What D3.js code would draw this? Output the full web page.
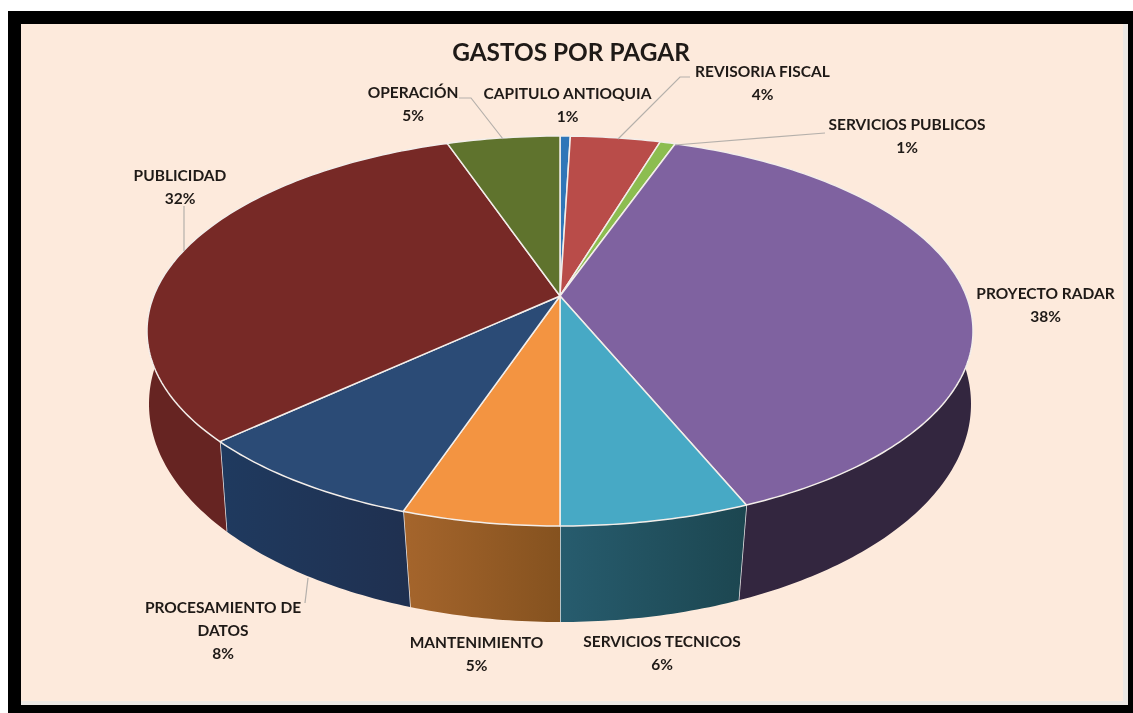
<!DOCTYPE html>
<html>
<head>
<meta charset="utf-8">
<script src="https://cdn.jsdelivr.net/npm/d3@7"></script>
<style>
    html, body { margin: 0; padding: 0; background: #fff; }
    svg { display: block; filter: blur(0.4px); }
    text { font-family: Lato, "Open Sans", sans-serif; font-weight: 700; fill: #1f1a17; text-anchor: middle; }
</style>
</head>
<body>
<div id="chart"></div>
<script>
const chartTitle = 'GASTOS POR PAGAR';
const categories = ['CAPITULO ANTIOQUIA', 'REVISORIA FISCAL', 'SERVICIOS PUBLICOS', 'PROYECTO RADAR',
    'SERVICIOS TECNICOS', 'MANTENIMIENTO', 'PROCESAMIENTO DE DATOS', 'PUBLICIDAD', 'OPERACIÓN'];
// share of the circle each slice takes in the drawing
const sliceShares = [0.4, 3.5, 0.6, 38.05, 7.45, 6.2, 9.2, 30.2, 4.4];
// what the chart prints (does not quite agree with the slices)
const percentLabels = ['1%', '4%', '1%', '38%', '6%', '5%', '8%', '32%', '5%'];
const topColors = ['#2f76b8', '#b94c49', '#8cbd50', '#7f62a0', '#47a9c5', '#f39441', '#2b4b76', '#772926', '#5f732d'];
const wallLeft = ['#1f4f7d', '#7d3230', '#5f8036', '#33263f', '#275c6e', '#a5652c', '#1f3a5f', '#662422', '#40501f'];
const wallRight = ['#1f4f7d', '#7d3230', '#5f8036', '#33263f', '#1c4650', '#85521f', '#1f3050', '#662422', '#40501f'];

const labelLines = [
    ['CAPITULO ANTIOQUIA'], ['REVISORIA FISCAL'], ['SERVICIOS PUBLICOS'], ['PROYECTO RADAR'],
    ['SERVICIOS TECNICOS'], ['MANTENIMIENTO'], ['PROCESAMIENTO DE', 'DATOS'], ['PUBLICIDAD'], ['OPERACIÓN']
];
const labelAnchors = [[567.5, 99], [762.5, 77], [907, 130], [1045.5, 299], [662, 647], [476.5, 648], [223, 613], [180, 181], [413, 98]];
const leaders = [
    [[459, 98], [471, 98], [503, 139]],
    [[690, 77], [680, 77], [618, 139]],
    [[825, 133], [675, 145]],
    [[184, 206], [184, 251]],
    [[305, 603], [308, 578]]
];

const width = 1133, height = 713;
const apex = { x: 560, y: 296 };
const topRim = { cy: 331, rx: 413, ry: 195 };
const bottomRim = { cy: 404, rx: 411, ry: 218 };
const wallFrom = 70 * Math.PI / 180, wallTo = 290 * Math.PI / 180;

const rimPoint = (rim, t) => [apex.x + rim.rx * Math.sin(t), rim.cy - rim.ry * Math.cos(t)];
// the lower rim is seen a little further in, so seams lean toward the middle
const lowerPoint = t => rimPoint(bottomRim, t - 0.023 * Math.sin(2 * t));
const line = d3.line();

function arcPoints(pointAt, a, b) {
    const n = Math.max(2, Math.ceil(Math.abs(b - a) * 60));
    return d3.range(n + 1).map(i => pointAt(a + (b - a) * i / n));
}
const upperPoint = t => rimPoint(topRim, t);

const slices = d3.pie().sort(null).value(d => d)(sliceShares);

const svg = d3.select('#chart').append('svg').attr('width', width).attr('height', height);

// frame
svg.append('rect').attr('x', 8).attr('y', 11).attr('width', width - 8).attr('height', height - 11).attr('fill', '#000');
svg.append('rect').attr('x', 21).attr('y', 24).attr('width', 1107).attr('height', 681).attr('fill', '#ece8e4');
svg.append('rect').attr('x', 21).attr('y', 24).attr('width', 1102).attr('height', 677).attr('fill', '#fdeadc');

const defs = svg.append('defs');
slices.forEach((s, i) => {
    const grad = defs.append('linearGradient').attr('id', `wall-${i}`);
    grad.append('stop').attr('offset', '0%').attr('stop-color', wallLeft[i]);
    grad.append('stop').attr('offset', '100%').attr('stop-color', wallRight[i]);
});

// outer walls
const wall = svg.append('g').attr('class', 'walls');
slices.forEach((s, i) => {
    const a = Math.max(s.startAngle, wallFrom), b = Math.min(s.endAngle, wallTo);
    if (a >= b) return;
    wall.append('path')
        .attr('d', line([...arcPoints(upperPoint, a, b), ...arcPoints(lowerPoint, b, a)]) + 'Z')
        .attr('fill', `url(#wall-${i})`);
    // seam between two walls
    if (s.endAngle < wallTo) {
        wall.append('path')
            .attr('d', line([upperPoint(b), lowerPoint(b)]))
            .attr('stroke', '#e9e6e6').attr('stroke-width', 1.5).attr('fill', 'none');
    }
});

// top of the pie
svg.append('g').attr('class', 'slices')
    .selectAll('path')
    .data(slices)
    .join('path')
    .attr('d', d => line([[apex.x, apex.y], ...arcPoints(upperPoint, d.startAngle, d.endAngle)]) + 'Z')
    .attr('fill', (d, i) => topColors[i])
    .attr('stroke', '#f3eeea')
    .attr('stroke-width', 1.5)
    .attr('stroke-linejoin', 'round');

// leader lines
svg.append('g').attr('class', 'leaders')
    .selectAll('path')
    .data(leaders)
    .join('path')
    .attr('d', d => line(d))
    .attr('fill', 'none')
    .attr('stroke', '#b5b0ab')
    .attr('stroke-width', 1.2);

svg.append('text')
    .attr('x', 571).attr('y', 61)
    .attr('font-size', 24.4)
    .text(chartTitle);

// labels
categories.forEach((c, i) => {
    const [x, y] = labelAnchors[i];
    const lines = [...labelLines[i], percentLabels[i]];
    svg.append('text')
        .attr('x', x).attr('y', y)
        .attr('font-size', 15.5)
        .selectAll('tspan')
        .data(lines)
        .join('tspan')
        .attr('x', x)
        .attr('dy', (d, j) => (j === 0 ? 0 : 23))
        .text(d => d);
});
</script>
</body>
</html>
